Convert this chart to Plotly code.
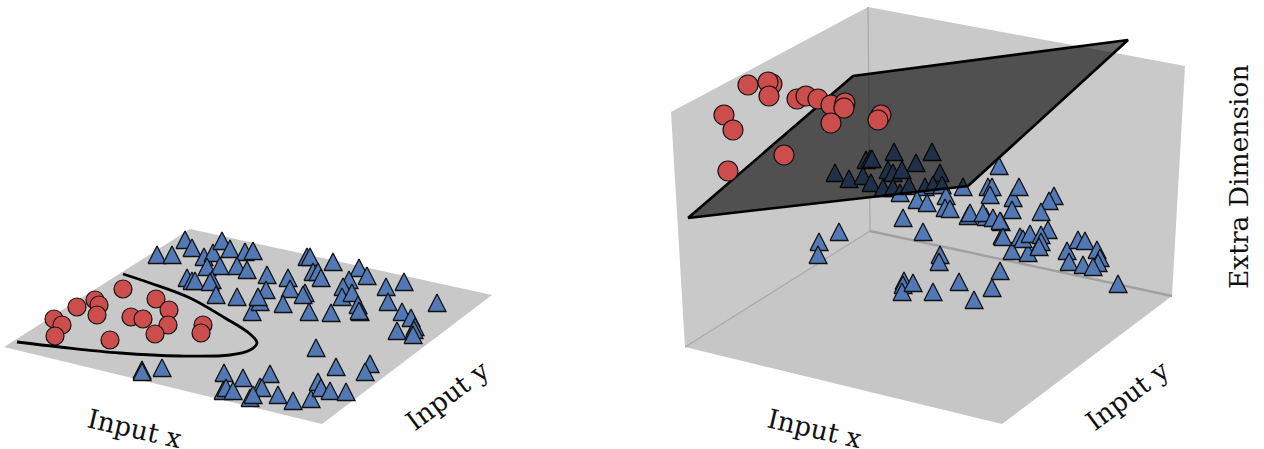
import plotly.graph_objects as go

# Chart values (page-pixel coordinates on hidden axes)
left_floor_x = [4, 190, 492, 322]
left_floor_y = [347, 229, 295, 424]
boundary_x = [17, 60, 120, 180, 230, 250, 257, 250, 225, 190, 150, 123]
boundary_y = [342, 347, 353, 356, 355, 350, 343, 334, 318, 298, 283, 274]
left_tri_x = [185, 192, 157, 172, 204, 213, 222, 230, 245, 253, 207, 220, 237, 247, 187, 192, 195, 212, 210, 216, 237, 252,
              142, 142, 162, 224, 243, 223, 226, 233, 250, 307, 310, 333, 313, 318, 321, 359, 367, 349, 343, 342, 352,
              358, 360, 359, 386, 404, 388, 437, 402, 411, 415, 414, 413, 397, 267, 266, 288, 290, 305, 303, 283, 260,
              258, 309, 331, 316, 336, 370, 365, 270, 260, 262, 253, 278, 293, 311, 318, 321, 330, 346]
left_tri_y = [240, 248, 255, 255, 257, 253, 241, 249, 252, 251, 267, 266, 266, 270, 278, 281, 281, 280, 282, 295, 297, 312,
              370, 372, 368, 373, 378, 391, 388, 391, 398, 257, 257, 262, 272, 272, 278, 268, 276, 280, 287, 297, 293,
              305, 312, 311, 287, 282, 302, 303, 312, 318, 327, 330, 335, 331, 275, 290, 278, 289, 293, 295, 304, 302,
              297, 312, 313, 348, 367, 364, 372, 374, 387, 388, 395, 395, 401, 399, 382, 388, 391, 392]
left_dot_x = [54, 62, 55, 77, 95, 99, 97, 123, 110, 131, 143, 156, 169, 168, 155, 203, 201]
left_dot_y = [319, 325, 336, 307, 300, 305, 315, 289, 340, 317, 319, 299, 310, 325, 334, 325, 333]

wall_left_x = [671, 868, 870, 685]
wall_left_y = [112, 7, 231, 347]
wall_back_x = [868, 1185, 1172, 870]
wall_back_y = [7, 66, 296, 231]
floor_x = [685, 870, 1172, 1002]
floor_y = [347, 231, 296, 424]
plane_x = [688, 853, 1128, 968]
plane_y = [218, 76, 40, 186]
right_tri_x = [835, 849, 863, 866, 870, 872, 894, 916, 932, 871, 888, 893, 902, 940, 883, 893, 900, 909, 925, 933, 942, 963,
               917, 927, 946, 945, 950, 903, 923, 839, 819, 818, 940, 939, 904, 903, 902, 913, 933, 959, 974, 992, 1000,
               968, 986, 1001, 1002, 1012, 1013, 999, 988, 992, 990, 1019, 1012, 1054, 1049, 1041, 970, 983, 993, 1000,
               1003, 1028, 1020, 1023, 1030, 1048, 1041, 1041, 1039, 1067, 1069, 1078, 1085, 1097, 1100, 1098, 1083, 1093, 1118]
right_tri_y = [173, 179, 176, 160, 159, 159, 152, 163, 152, 183, 170, 173, 170, 173, 188, 188, 193, 186, 187, 185, 185, 187,
               200, 203, 196, 208, 209, 218, 232, 232, 242, 255, 255, 262, 281, 285, 292, 283, 292, 282, 300, 288, 271,
               216, 217, 222, 236, 251, 198, 166, 187, 187, 195, 187, 210, 196, 201, 212, 213, 213, 218, 221,
               237, 253, 237, 239, 234, 230, 235, 242, 247, 251, 262, 240, 241, 250, 258, 263, 265, 267, 284]
right_dot_x = [748, 772, 768, 769, 724, 733, 728, 784, 797, 806, 818, 831, 845, 844, 831, 881, 878]
right_dot_y = [85, 84, 82, 96, 115, 130, 171, 155, 99, 96, 99, 105, 103, 108, 123, 115, 120]

label_text = ["Input x", "Input y", "Input x", "Input y", "Extra Dimension"]
label_x = [135, 447, 815, 1127, 1238]
label_y = [428, 395, 428, 395, 177]
label_angle = [13, -37, 13, -37, -90]

GRAY = "#c8c8c8"
BLUE = "#5279b5"
RED = "#cd4c4c"
INK = "#111111"

fig = go.Figure()


def poly(xs, ys, color, line=None, width=0):
    fig.add_trace(go.Scatter(x=xs + xs[:1], y=ys + ys[:1], mode="lines", fill="toself", fillcolor=color,
                             line=dict(color=line or "rgba(0,0,0,0)", width=width), hoverinfo="skip"))


def segment(xs, ys, color, width):
    fig.add_trace(go.Scatter(x=xs, y=ys, mode="lines", line=dict(color=color, width=width), hoverinfo="skip"))


def triangles(xs, ys):
    for x, y in zip(xs, ys):
        fig.add_trace(go.Scatter(x=[x - 9, x, x + 9, x - 9], y=[y + 8.5, y - 9, y + 8.5, y + 8.5],
                                 mode="lines", fill="toself", fillcolor=BLUE,
                                 line=dict(color=INK, width=1.3), hoverinfo="skip"))


def dots(xs, ys, size):
    fig.add_trace(go.Scatter(x=xs, y=ys, mode="markers",
                             marker=dict(symbol="circle", size=size, color=RED, line=dict(color=INK, width=1.2)),
                             hoverinfo="skip"))


# left panel
poly(left_floor_x, left_floor_y, GRAY)
triangles(left_tri_x, left_tri_y)
dots(left_dot_x, left_dot_y, 18)
fig.add_trace(go.Scatter(x=boundary_x, y=boundary_y, mode="lines", line=dict(color="black", width=2.8, shape="spline"),
                         hoverinfo="skip"))

# right panel
poly(wall_left_x, wall_left_y, "#c9c9c9")
poly(wall_back_x, wall_back_y, "#c9c9c9")
poly(floor_x, floor_y, "#c6c6c6")
segment(wall_left_x[1:3], wall_left_y[1:3], "#a8a8a8", 1.2)
segment(floor_x[:2], floor_y[:2], "#a8a8a8", 1.2)
segment(floor_x[1:3], floor_y[1:3], "#a0a0a0", 2.4)
triangles(right_tri_x, right_tri_y)
poly(plane_x, plane_y, "rgba(0,0,0,0.6)", "black", 2.6)
dots(right_dot_x, right_dot_y, 20)

for t, x, y, a in zip(label_text, label_x, label_y, label_angle):
    fig.add_annotation(x=x, y=y, text=t, textangle=a, showarrow=False,
                       font=dict(family="DejaVu Serif", size=26.5, color="#111111"))

fig.update_layout(width=1264, height=449, margin=dict(l=0, r=0, t=0, b=0), showlegend=False,
                  paper_bgcolor="white", plot_bgcolor="white",
                  xaxis=dict(range=[0, 1264], visible=False, fixedrange=True),
                  yaxis=dict(range=[449, 0], visible=False, fixedrange=True))
fig.write_html("out.html", config=dict(displayModeBar=False),
               post_script="document.body.style.margin='0';document.body.style.overflow='hidden';")
